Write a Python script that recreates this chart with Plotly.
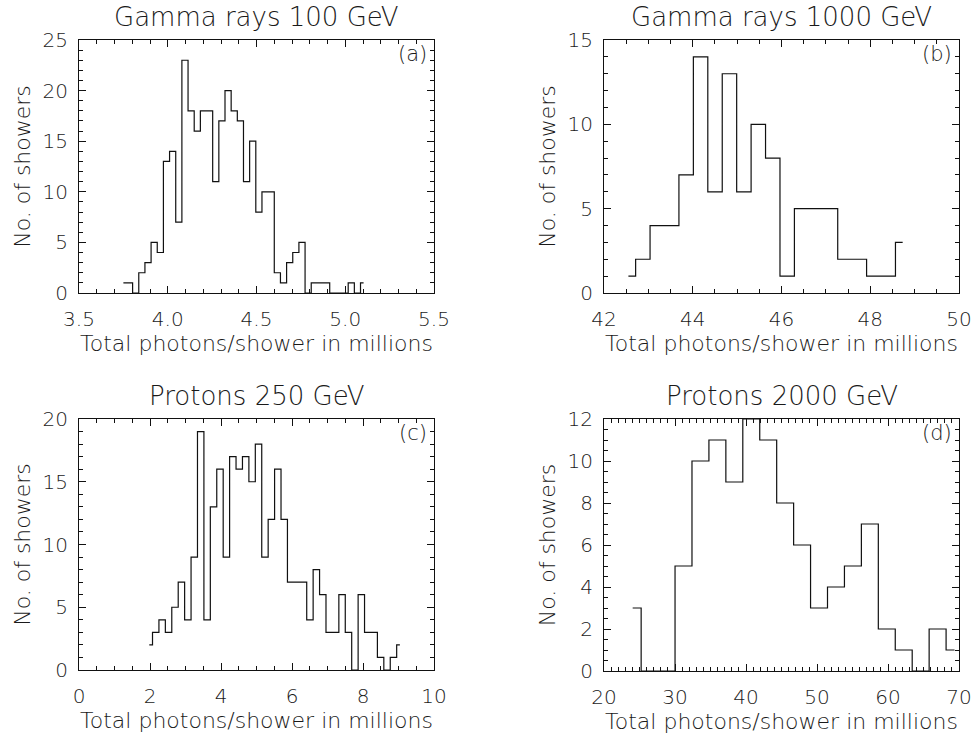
import numpy as np
import plotly.graph_objects as go

W, H = 977, 740

# ---- data (histogram counts, bins) ----
a_title = "Gamma rays 100 GeV"
a_start, a_width = 3.75, 0.0347
a_counts = [1, 1, 0, 2, 3, 5, 4, 13, 14, 7, 23, 18, 16, 18, 18, 11, 17, 20, 18, 17,
            11, 15, 8, 10, 10, 2, 1, 3, 4, 5, 0, 1, 1, 1, 0, 0, 0, 1, 0, 1]

b_title = "Gamma rays 1000 GeV"
b_start, b_width = 42.55, 0.3253
b_counts = [1, 2, 4, 4, 7, 14, 6, 13, 6, 10, 8, 1, 5, 5, 5, 2, 2, 1, 1, 3]

c_title = "Protons 250 GeV"
c_start, c_width = 1.98, 0.181
c_counts = [2, 3, 4, 3, 5, 7, 4, 9, 19, 4, 13, 16, 9, 17, 16, 17, 15, 18, 9, 12,
            16, 12, 7, 7, 7, 4, 8, 6, 3, 3, 6, 3, 0, 6, 3, 3, 1, 0, 1, 2]

d_title = "Protons 2000 GeV"
d_start, d_width = 24.04, 2.386
d_counts = [3, 0, 0, 5, 10, 11, 9, 12, 11, 8, 6, 3, 4, 5, 7, 2, 1, 0, 2, 1]

xlabel = "Total photons/shower in millions"
ylabel = "No. of showers"
tags = ["(a)", "(b)", "(c)", "(d)"]

# ---- layout helpers ----
FONT = "DejaVu Sans"
TXT = "#1a1a1a"
WEIGHT = 200

panels = [
    dict(title=a_title, start=a_start, width=a_width, counts=a_counts,
         xr=[3.5, 5.5], xd=0.5, xm=0.1, yr=[0, 25], yd=5, ym=1, xfmt=".1f",
         px=(79, 434), py=(40, 293)),
    dict(title=b_title, start=b_start, width=b_width, counts=b_counts,
         xr=[42, 50], xd=2, xm=0.5, yr=[0, 15], yd=5, ym=1, xfmt="d",
         px=(604, 959), py=(40, 293)),
    dict(title=c_title, start=c_start, width=c_width, counts=c_counts,
         xr=[0, 10], xd=2, xm=0.5, yr=[0, 20], yd=5, ym=1, xfmt="d",
         px=(79, 434), py=(419, 670)),
    dict(title=d_title, start=d_start, width=d_width, counts=d_counts,
         xr=[20, 70], xd=10, xm=1, yr=[0, 12], yd=2, ym=0.5, xfmt="d",
         px=(604, 959), py=(419, 671)),
]

def fnt(size):
    return dict(family=FONT, size=size, color=TXT, weight=WEIGHT)

fig = go.Figure()
annotations = []
for i, p in enumerate(panels):
    n = i + 1
    xa = "x" if n == 1 else f"x{n}"
    ya = "y" if n == 1 else f"y{n}"
    centers = p["start"] + p["width"] * np.arange(len(p["counts"]))
    fig.add_trace(go.Scatter(
        x=centers, y=p["counts"], mode="lines", line=dict(shape="hvh", color="#111111", width=1.2),
        xaxis=xa, yaxis=ya, showlegend=False, cliponaxis=False, hoverinfo="x+y"))
    xdom = [p["px"][0] / W, p["px"][1] / W]
    ydom = [1 - p["py"][1] / H, 1 - p["py"][0] / H]
    common = dict(showline=True, linecolor="#111111", linewidth=1.2, mirror="allticks",
                  ticks="inside", ticklen=7, tickwidth=1, tickcolor="#111111",
                  showgrid=False, zeroline=False, automargin=False,
                  tickfont=fnt(20))
    fig.layout[f"xaxis{'' if n == 1 else n}"] = dict(
        domain=xdom, range=p["xr"], dtick=p["xd"], tick0=p["xr"][0], tickformat=p["xfmt"],
        anchor=ya, ticklabelstandoff=8,
        minor=dict(dtick=p["xm"], ticks="inside", ticklen=4, tickcolor="#111111", showgrid=False),
        title=dict(text=xlabel, font=fnt(22), standoff=0),
        **common)
    fig.layout[f"yaxis{'' if n == 1 else n}"] = dict(
        domain=ydom, range=p["yr"], dtick=p["yd"], tick0=0,
        anchor=xa, ticklabelstandoff=6,
        minor=dict(dtick=p["ym"], ticks="inside", ticklen=4, tickcolor="#111111", showgrid=False),
        title=dict(text=ylabel, font=fnt(22), standoff=5),
        **common)
    # panel title
    annotations.append(dict(text=p["title"], xref=f"{xa} domain", yref=f"{ya} domain",
                            x=0.5, y=1, yshift=6, xanchor="center", yanchor="bottom",
                            showarrow=False, font=fnt(26)))
    # panel tag
    annotations.append(dict(text=tags[i], xref=f"{xa} domain", yref=f"{ya} domain",
                            x=1, y=1, xshift=-5, yshift=0, xanchor="right", yanchor="top",
                            showarrow=False, font=fnt(21)))

fig.update_layout(width=W, height=H, margin=dict(l=0, r=0, t=0, b=0, autoexpand=False),
                  paper_bgcolor="white", plot_bgcolor="white",
                  annotations=annotations, font=dict(family=FONT, color=TXT))
fig.write_html("out.html")
